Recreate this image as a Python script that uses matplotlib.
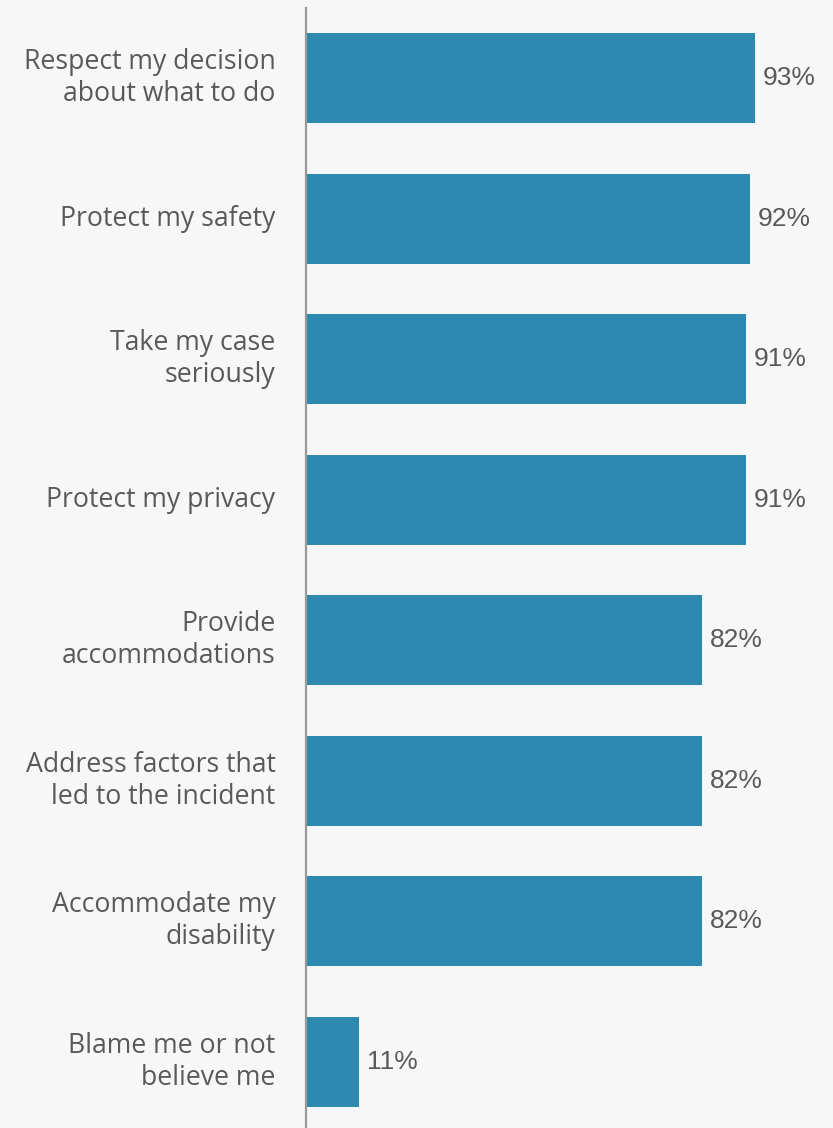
import matplotlib.pyplot as plt

categories = [
    'Respect my decision\nabout what to do',
    'Protect my safety',
    'Take my case\nseriously',
    'Protect my privacy',
    'Provide\naccommodations',
    'Address factors that\nled to the incident',
    'Accommodate my\ndisability',
    'Blame me or not\nbelieve me',
]
values = [93, 92, 91, 91, 82, 82, 82, 11]

bg = '#f7f7f7'
bar_color = '#2e89b0'
text_color = '#595959'

fig = plt.figure(figsize=(8.33, 11.28), dpi=100, facecolor=bg)
ax = fig.add_axes([306 / 833, 0, 483 / 833, 1120 / 1128])
ax.set_facecolor(bg)

y = list(range(len(values)))
ax.barh(y, values, height=0.64, color=bar_color, zorder=2)
ax.set_xlim(0, 100)
ax.set_ylim(7.47, -0.498)

for yi, v in zip(y, values):
    ax.text(v + 1.6, yi, f'{v}%', va='center', ha='left', fontsize=19,
            family='Liberation Sans', color=text_color, clip_on=False)

ax.set_yticks(y)
ax.set_yticklabels(categories, fontsize=19.2, family='Open Sans',
                   color=text_color, linespacing=1.2)
for lbl in ax.get_yticklabels():
    lbl.set_verticalalignment('center')
ax.tick_params(axis='y', length=0, pad=22)
ax.set_xticks([])

for s in ['top', 'right', 'bottom']:
    ax.spines[s].set_visible(False)
ax.spines['left'].set_color('#999999')
ax.spines['left'].set_linewidth(1.6)
ax.spines['left'].set_zorder(3)

fig.savefig('out.png', dpi=100, facecolor=bg)
